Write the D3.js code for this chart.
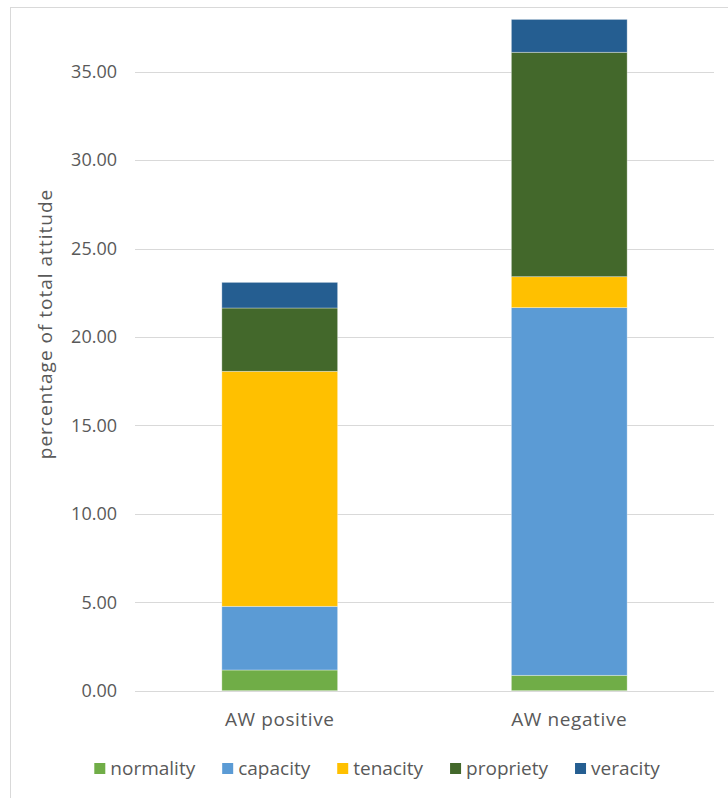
<!DOCTYPE html>
<html>
<head>
<meta charset="utf-8">
<script src="https://cdn.jsdelivr.net/npm/d3@7"></script>
<style>
  html, body { margin: 0; padding: 0; background: #fff; }
  svg { display: block; }
  text { font-family: "Open Sans", "Noto Sans", sans-serif; fill: #595959; }
</style>
</head>
<body>
<svg id="chart" width="728" height="798"></svg>
<script>
// Attitude categories per group, stacked bottom to top
const groups = ["AW positive", "AW negative"];
const seriesNames = ["normality", "capacity", "tenacity", "propriety", "veracity"];
const seriesColors = ["#70AD47", "#5B9BD5", "#FFC000", "#43682B", "#255E91"];
const normality = [1.17, 0.87];
const capacity = [3.60, 20.79];
const tenacity = [13.29, 1.75];
const propriety = [3.58, 12.69];
const veracity = [1.45, 1.86];
const yTicks = [0, 5, 10, 15, 20, 25, 30, 35];
const yTitle = "percentage of total attitude";

const seriesValues = [normality, capacity, tenacity, propriety, veracity];
const rows = groups.map((g, i) => {
  const r = { group: g };
  seriesNames.forEach((s, k) => { r[s] = seriesValues[k][i]; });
  return r;
});

const svg = d3.select("#chart");
const plot = { left: 135, right: 714, top: -16.7, bottom: 690.7 };
const tickFont = 18;
const labelFont = 19;

// chart frame
svg.append("rect")
  .attr("x", 10.5).attr("y", 7.5)
  .attr("width", 740).attr("height", 800)
  .attr("fill", "none").attr("stroke", "#D9D9D9").attr("stroke-width", 1);

const x = d3.scaleBand().domain(groups).range([plot.left, plot.right]).padding(0);
const y = d3.scaleLinear().domain([0, 40]).range([plot.bottom, plot.top]);
const barW = x.bandwidth() * 0.4;

// gridlines
svg.append("g").selectAll("line").data(yTicks).join("line")
  .attr("x1", plot.left).attr("x2", plot.right)
  .attr("y1", d => Math.round(y(d)) + 0.5).attr("y2", d => Math.round(y(d)) + 0.5)
  .attr("stroke", "#D9D9D9").attr("stroke-width", 1.2);

// y tick labels
const yAxis = d3.axisLeft(y).tickValues(yTicks).tickFormat(d3.format(".2f")).tickSize(0).tickPadding(0);
const gy = svg.append("g").attr("transform", `translate(${117},0)`).call(yAxis);
gy.select(".domain").remove();
gy.selectAll("text").attr("font-size", tickFont).attr("fill", "#595959")
  .style("font-family", '"Open Sans", sans-serif');

// stacked bars
const stack = d3.stack().keys(seriesNames)(rows);
svg.append("g").selectAll("g").data(stack).join("g")
  .attr("fill", (d, i) => seriesColors[i])
  .selectAll("rect").data(d => d).join("rect")
  .attr("x", d => x(d.data.group) + (x.bandwidth() - barW) / 2)
  .attr("width", barW)
  .attr("y", d => y(d[1]))
  .attr("height", d => y(d[0]) - y(d[1]))
  .attr("stroke", "#ffffff").attr("stroke-opacity", 0.45).attr("stroke-width", 0.75);

// x category labels
const xAxis = d3.axisBottom(x).tickSize(0).tickPadding(0);
const gx = svg.append("g").attr("transform", `translate(0,${plot.bottom + 29})`).call(xAxis);
gx.select(".domain").remove();
gx.selectAll("text").attr("font-size", labelFont).attr("fill", "#595959")
  .attr("dy", "0.35em").attr("letter-spacing", 0.6)
  .style("font-family", '"Open Sans", sans-serif');

// y axis title
svg.append("text")
  .attr("transform", `translate(52,324) rotate(-90)`)
  .attr("text-anchor", "middle")
  .attr("font-size", labelFont)
  .attr("letter-spacing", 1)
  .text(yTitle);

// legend, centred under the chart
const legend = svg.append("g");
const items = legend.selectAll("g").data(seriesNames).join("g");
items.append("rect").attr("width", 11).attr("height", 11).attr("y", -5)
  .attr("fill", (d, i) => seriesColors[i]);
items.append("text").attr("x", 16).attr("dy", "0.35em").attr("font-size", labelFont).text(d => d);
let cx = 0;
const gap = 27;
items.each(function () {
  const w = 16 + d3.select(this).select("text").node().getComputedTextLength();
  d3.select(this).attr("transform", `translate(${cx},0)`);
  cx += w + gap;
});
const total = cx - gap;
legend.attr("transform", `translate(${377 - total / 2},768)`);
</script>
</body>
</html>
